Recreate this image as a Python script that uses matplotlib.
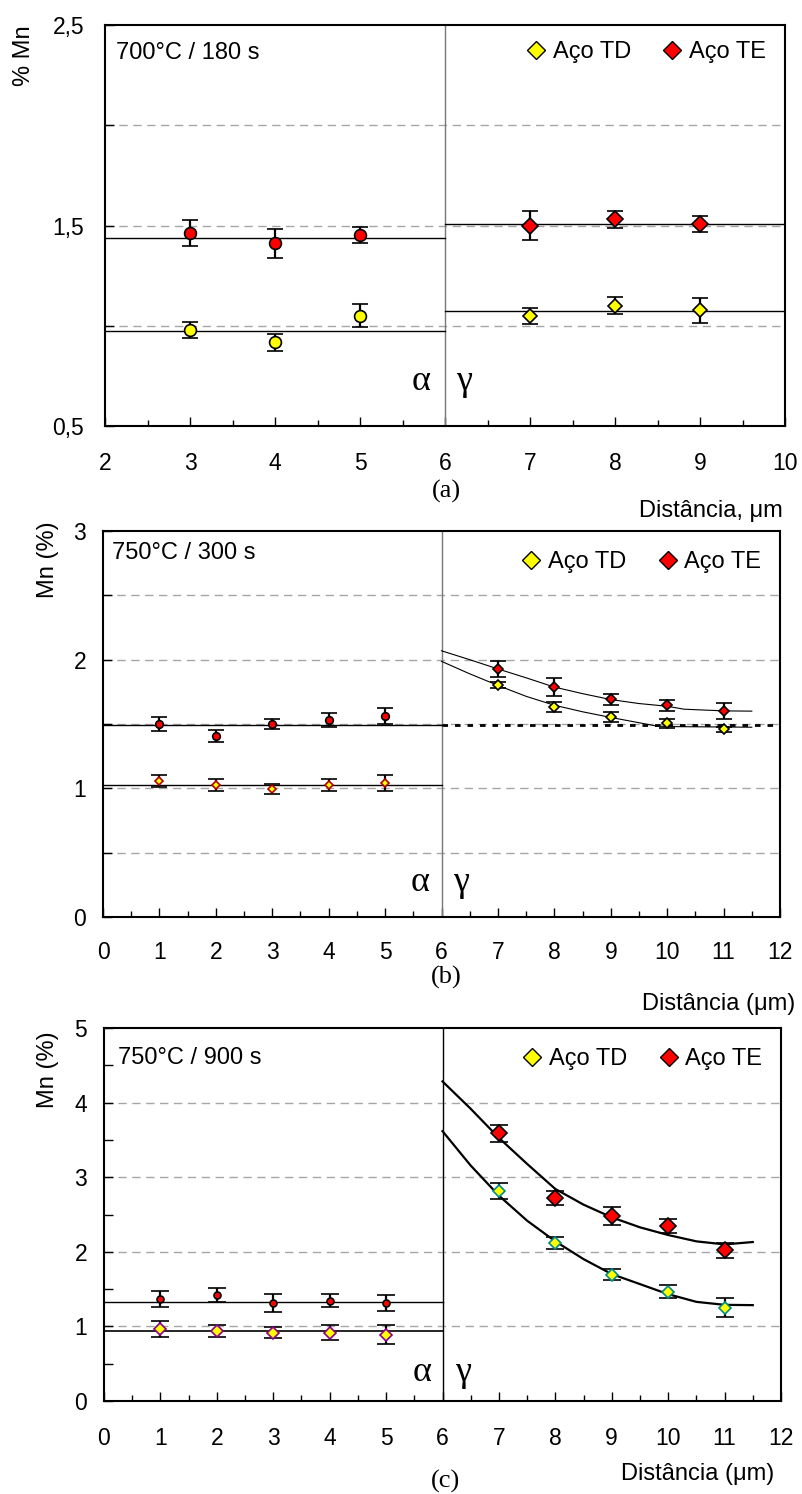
import matplotlib
matplotlib.use("Agg")
import matplotlib.pyplot as plt
from matplotlib.lines import Line2D
from matplotlib.ticker import MultipleLocator, FixedLocator

plt.rcParams['font.family'] = ['Liberation Sans', 'DejaVu Sans']

# ---------------- data ----------------
# Panel (a) 700°C / 180 s
a_alpha_x = [3, 4, 5]
a_alpha_te = [1.463, 1.411, 1.451]
a_alpha_te_err = [0.064, 0.072, 0.040]
a_alpha_td = [0.978, 0.917, 1.051]
a_alpha_td_err = [0.040, 0.042, 0.057]
a_gamma_x = [7, 8, 9]
a_gamma_te = [1.499, 1.531, 1.509]
a_gamma_te_err = [0.072, 0.043, 0.040]
a_gamma_td = [1.048, 1.099, 1.078]
a_gamma_td_err = [0.040, 0.042, 0.062]
a_alpha_te_mean = 1.436
a_alpha_td_mean = 0.973
a_gamma_te_mean = 1.509
a_gamma_td_mean = 1.076

# Panel (b) 750°C / 300 s
b_alpha_x = [1, 2, 3, 4, 5]
b_alpha_te = [1.499, 1.405, 1.499, 1.532, 1.561]
b_alpha_te_err = [0.057, 0.048, 0.040, 0.055, 0.062]
b_alpha_td = [1.055, 1.024, 0.993, 1.024, 1.040]
b_alpha_td_err = [0.048, 0.048, 0.039, 0.048, 0.062]
b_gamma_x = [7, 8, 9, 10, 11]
b_gamma_te = [1.926, 1.786, 1.693, 1.646, 1.602]
b_gamma_te_err = [0.062, 0.069, 0.043, 0.043, 0.062]
b_gamma_td = [1.804, 1.631, 1.553, 1.506, 1.460]
b_gamma_td_err = [0.026, 0.039, 0.039, 0.036, 0.020]
b_alpha_te_mean = 1.491
b_alpha_td_mean = 1.024
b_gamma_ref = 1.496
b_fit_te_x = [6, 6.5, 7, 7.5, 8, 8.5, 9, 9.5, 10, 10.3, 11, 11.5]
b_fit_te_y = [2.069, 2.0, 1.928, 1.859, 1.787, 1.736, 1.690, 1.659, 1.638, 1.615, 1.602, 1.600]
b_fit_td_x = [6, 6.5, 7, 7.5, 8, 8.5, 9, 9.5, 9.8, 10, 11.5]
b_fit_td_y = [1.987, 1.890, 1.800, 1.715, 1.646, 1.595, 1.551, 1.510, 1.485, 1.480, 1.475]

# Panel (c) 750°C / 900 s
c_alpha_x = [1, 2, 3, 4, 5]
c_alpha_te = [1.370, 1.419, 1.316, 1.347, 1.316]
c_alpha_te_err = [0.110, 0.090, 0.117, 0.085, 0.105]
c_alpha_td = [0.967, 0.940, 0.918, 0.918, 0.891]
c_alpha_td_err = [0.107, 0.080, 0.078, 0.096, 0.130]
c_gamma_x = [7, 8, 9, 10, 11]
c_gamma_te = [3.590, 2.717, 2.484, 2.350, 2.019]
c_gamma_te_err = [0.116, 0.092, 0.120, 0.094, 0.100]
c_gamma_td = [2.811, 2.122, 1.692, 1.464, 1.253]
c_gamma_td_err = [0.105, 0.083, 0.074, 0.090, 0.128]
c_alpha_te_mean = 1.329
c_alpha_td_mean = 0.940
c_fit_te_x = [6, 6.5, 7, 7.5, 8, 8.5, 9, 9.5, 10, 10.5, 11, 11.5]
c_fit_te_y = [4.284, 3.917, 3.527, 3.178, 2.842, 2.632, 2.462, 2.328, 2.225, 2.140, 2.099, 2.131]
c_fit_td_x = [6, 6.5, 7, 7.5, 8, 8.5, 9, 9.5, 10, 10.5, 11, 11.5]
c_fit_td_y = [3.617, 3.156, 2.753, 2.417, 2.140, 1.902, 1.701, 1.567, 1.432, 1.329, 1.289, 1.285]

W, H = 802, 1494
fig = plt.figure(figsize=(W / 100, H / 100), dpi=100)


def add_axes(l, r, t, b):
    return fig.add_axes([l / W, 1 - b / H, (r - l) / W, (b - t) / H])


GRID = dict(color='#a6a6a6', lw=1.0, ls=(0, (6, 4)), zorder=1)
TICKFS = 16.5
TXTFS = 17
SERIF = ['Liberation Serif', 'DejaVu Serif']


def style(ax, xlim, ylim, ytick_vals, ytick_labels, xpad, ypad):
    ax.set_xlim(*xlim)
    ax.set_ylim(*ylim)
    ax.xaxis.set_major_locator(MultipleLocator(1))
    ax.xaxis.set_minor_locator(MultipleLocator(0.5))
    ax.yaxis.set_major_locator(FixedLocator(ytick_vals))
    ax.set_yticklabels(ytick_labels)
    ax.tick_params(axis='both', which='major', direction='in', length=6.5, width=1.0,
                   labelsize=TICKFS, top=False, right=False)
    ax.tick_params(axis='both', which='minor', direction='in', length=4.3, width=1.0,
                   top=False, right=False)
    ax.tick_params(axis='x', which='major', pad=xpad)
    ax.tick_params(axis='y', which='major', pad=ypad)
    for s in ax.spines.values():
        s.set_linewidth(1.5)
        s.set_color('black')


def legend(ax, anchor):
    h = [Line2D([], [], marker='D', ls='none', mfc='#ffff00', mec='black', ms=9.5, mew=1.0),
         Line2D([], [], marker='D', ls='none', mfc='#ff0000', mec='black', ms=9.5, mew=1.0)]
    ax.legend(h, ['Aço TD', 'Aço TE'], loc='center right', bbox_to_anchor=anchor, ncol=2,
              frameon=False, fontsize=TXTFS, handlelength=0.9, handletextpad=0.25,
              columnspacing=1.3, borderaxespad=0, borderpad=0)


def eb(ax, x, y, e, marker, ms, mfc, mec, cap=5.5, lw=1.6):
    ax.errorbar(x, y, yerr=e, fmt=marker, ms=ms, mfc=mfc, mec=mec, mew=1.2,
                ecolor='black', elinewidth=lw, capsize=cap, capthick=lw, zorder=5)


# ---------------- panel (a) ----------------
ax = add_axes(105, 785, 25, 426)
for g in [1.0, 1.5, 2.0]:
    ax.axhline(g, **GRID)
ax.axvline(6, color='#777777', lw=1.0, zorder=2)
ax.plot([2, 6], [a_alpha_te_mean] * 2, color='black', lw=1.0, zorder=3)
ax.plot([2, 6], [a_alpha_td_mean] * 2, color='black', lw=1.0, zorder=3)
ax.plot([6, 10], [a_gamma_te_mean] * 2, color='black', lw=1.0, zorder=3)
ax.plot([6, 10], [a_gamma_td_mean] * 2, color='black', lw=1.0, zorder=3)
eb(ax, a_alpha_x, a_alpha_te, a_alpha_te_err, 'o', 8.5, '#ff0000', 'black')
eb(ax, a_alpha_x, a_alpha_td, a_alpha_td_err, 'o', 8.5, '#ffff00', 'black')
eb(ax, a_gamma_x, a_gamma_te, a_gamma_te_err, 'D', 8.5, '#ff0000', 'black')
eb(ax, a_gamma_x, a_gamma_td, a_gamma_td_err, 'D', 7.5, '#ffff00', 'black')
style(ax, (2, 10), (0.5, 2.5), [0.5, 1.0, 1.5, 2.0, 2.5],
      ['0,5', '', '1,5', '', '2,5'], 19, 15)
ax.text(0.016, 0.93, '700°C / 180 s', transform=ax.transAxes, fontsize=TXTFS, va='center', ha='left')
legend(ax, (0.972, 0.933))
ax.text(5.72, 0.72, 'α', family=SERIF, fontsize=26, ha='center', va='center')
ax.text(6.22, 0.72, 'γ', family=SERIF, fontsize=26, ha='center', va='center')
fig.text(24 / W, 1 - 56 / H, '% Mn', rotation=90, fontsize=TXTFS, ha='center', va='center')
fig.text(446 / W, 1 - 491 / H, '(a)', family=SERIF, fontsize=19, ha='center', va='center')
fig.text(783 / W, 1 - 511 / H, 'Distância, μm', fontsize=TXTFS, ha='right', va='center')

# ---------------- panel (b) ----------------
ax = add_axes(103, 780, 531, 917)
for g in [0.5, 1.0, 1.5, 2.0, 2.5]:
    ax.axhline(g, **GRID)
ax.axvline(6, color='#777777', lw=1.0, zorder=2)
ax.plot([0, 6], [b_alpha_te_mean] * 2, color='black', lw=1.0, zorder=3)
ax.plot([0, 6], [b_alpha_td_mean] * 2, color='black', lw=1.0, zorder=3)
ax.plot([6, 12], [b_gamma_ref] * 2, color='black', lw=2.0, ls=(0, (2, 2.5)), zorder=3)
ax.plot(b_fit_te_x, b_fit_te_y, color='black', lw=0.8, zorder=3)
ax.plot(b_fit_td_x, b_fit_td_y, color='black', lw=0.8, zorder=3)
eb(ax, b_alpha_x, b_alpha_te, b_alpha_te_err, 'o', 5.5, '#ff0000', 'black', cap=6)
eb(ax, b_alpha_x, b_alpha_td, b_alpha_td_err, 'D', 4.5, '#ffff00', '#b00000', cap=6)
eb(ax, b_gamma_x, b_gamma_te, b_gamma_te_err, 'D', 5.5, '#ff0000', 'black', cap=6)
eb(ax, b_gamma_x, b_gamma_td, b_gamma_td_err, 'D', 5, '#ffff00', 'black', cap=6)
style(ax, (0, 12), (0, 3), [0, 0.5, 1, 1.5, 2, 2.5, 3],
      ['0', '', '1', '', '2', '', '3'], 17, 12)
ax.text(0.013, 0.943, '750°C / 300 s', transform=ax.transAxes, fontsize=TXTFS, va='center', ha='left')
legend(ax, (0.972, 0.92))
ax.text(5.62, 0.27, 'α', family=SERIF, fontsize=26, ha='center', va='center')
ax.text(6.35, 0.27, 'γ', family=SERIF, fontsize=26, ha='center', va='center')
fig.text(48 / W, 1 - 560 / H, 'Mn (%)', rotation=90, fontsize=TXTFS, ha='center', va='center')
fig.text(446 / W, 1 - 977 / H, '(b)', family=SERIF, fontsize=19, ha='center', va='center')
fig.text(795 / W, 1 - 1004 / H, 'Distância (μm)', fontsize=TXTFS, ha='right', va='center')

# ---------------- panel (c) ----------------
ax = add_axes(104, 781, 1028, 1401)
for g in [1, 2, 3, 4]:
    ax.axhline(g, **GRID)
ax.axvline(6, color='black', lw=1.0, zorder=2)
ax.plot([0, 6], [c_alpha_te_mean] * 2, color='black', lw=1.0, zorder=3)
ax.plot([0, 6], [c_alpha_td_mean] * 2, color='black', lw=1.2, zorder=3)
ax.plot(c_fit_te_x, c_fit_te_y, color='black', lw=1.6, zorder=3)
ax.plot(c_fit_td_x, c_fit_td_y, color='black', lw=1.6, zorder=3)
eb(ax, c_alpha_x, c_alpha_te, c_alpha_te_err, 'o', 5, '#ff0000', 'black', cap=6.5)
eb(ax, c_alpha_x, c_alpha_td, c_alpha_td_err, 'D', 6, '#ffff00', '#8b008b', cap=6.5)
eb(ax, c_gamma_x, c_gamma_te, c_gamma_te_err, 'D', 8, '#ff0000', 'black', cap=6.5)
eb(ax, c_gamma_x, c_gamma_td, c_gamma_td_err, 'D', 6.5, '#ffff00', '#008b8b', cap=6.5)
style(ax, (0, 12), (0, 5), [0, 0.5, 1, 1.5, 2, 2.5, 3, 3.5, 4, 4.5, 5],
      ['0', '', '1', '', '2', '', '3', '', '4', '', '5'], 19, 12)
ax.text(0.021, 0.92, '750°C / 900 s', transform=ax.transAxes, fontsize=TXTFS, va='center', ha='left')
legend(ax, (0.972, 0.917))
ax.text(5.64, 0.38, 'α', family=SERIF, fontsize=26, ha='center', va='center')
ax.text(6.37, 0.38, 'γ', family=SERIF, fontsize=26, ha='center', va='center')
fig.text(48 / W, 1 - 1070 / H, 'Mn (%)', rotation=90, fontsize=TXTFS, ha='center', va='center')
fig.text(446 / W, 1 - 1481 / H, '(c)', family=SERIF, fontsize=19, ha='center', va='center')
fig.text(774 / W, 1 - 1474 / H, 'Distância (μm)', fontsize=TXTFS, ha='right', va='center')

fig.savefig('out.png', dpi=100)
